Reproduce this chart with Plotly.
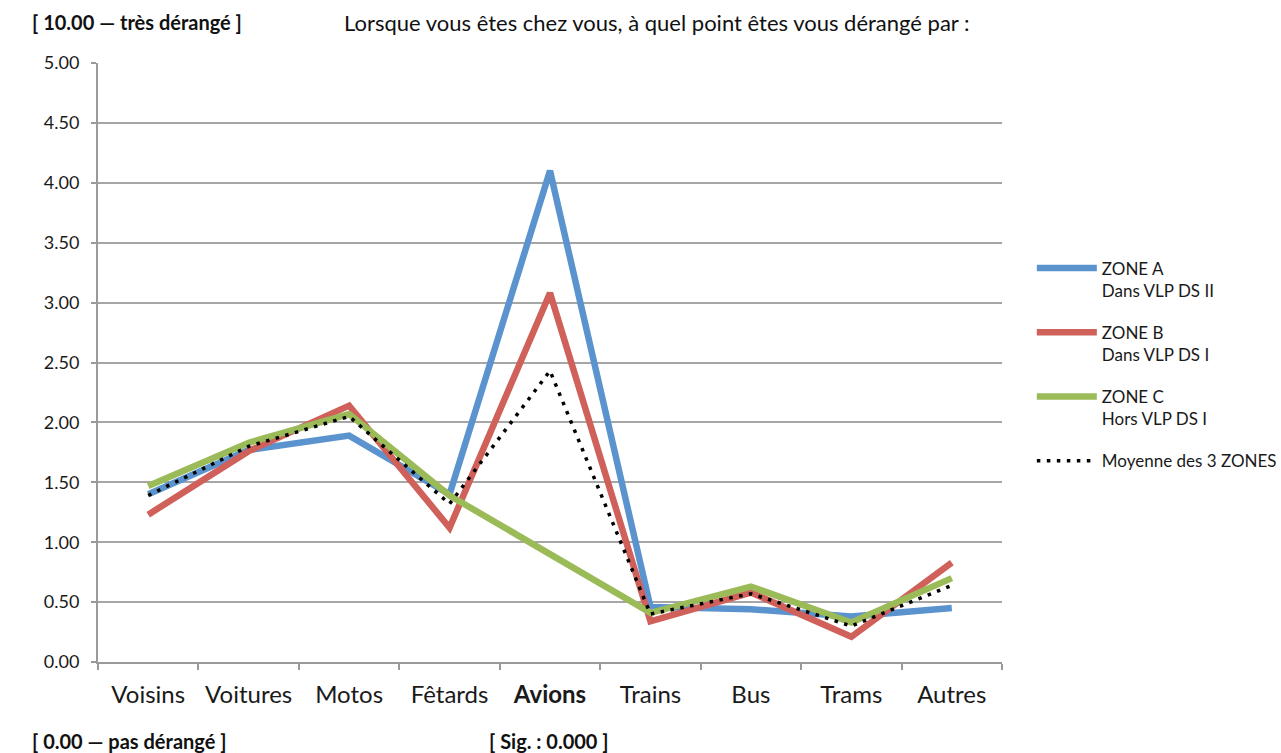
import plotly.graph_objects as go

categories = ["Voisins", "Voitures", "Motos", "Fêtards", "Avions", "Trains", "Bus", "Trams", "Autres"]
tick_labels = ["Voisins", "Voitures", "Motos", "Fêtards", "<b>Avions</b>", "Trains", "Bus", "Trams", "Autres"]
zone_a = [1.40, 1.77, 1.89, 1.40, 4.10, 0.46, 0.44, 0.38, 0.45]
zone_b = [1.23, 1.76, 2.14, 1.12, 3.08, 0.34, 0.58, 0.21, 0.83]
zone_c = [1.47, 1.83, 2.07, 1.39, None, 0.41, 0.63, 0.33, 0.70]
moyenne = [1.39, 1.80, 2.05, 1.32, 2.43, 0.40, 0.57, 0.30, 0.64]
names = ["ZONE A<br>Dans VLP DS II", "ZONE B<br>Dans VLP DS I", "ZONE C<br>Hors VLP DS I", "Moyenne des 3 ZONES"]
y_ticks = [0, 0.5, 1, 1.5, 2, 2.5, 3, 3.5, 4, 4.5, 5]

FONT = "Lato"
TXT = "#1a1a1a"
fig = go.Figure()
for i, (vals, name, col) in enumerate([(zone_a, names[0], "#5B93CE"), (zone_b, names[1], "#D0605A"), (zone_c, names[2], "#9BBB59")]):
    fig.add_trace(go.Scatter(x=categories, y=vals, name=name, mode="lines", legendgroup=f"g{i}",
                             line=dict(color=col, width=6.5), connectgaps=True))
fig.add_trace(go.Scatter(x=categories, y=moyenne, name=names[3], mode="lines", legendgroup="g3",
                         line=dict(color="black", width=3.5, dash="3.5px,6.5px")))

L, R, T, B = 98, 279, 63, 91
fig.update_layout(
    width=1281, height=753,
    margin=dict(l=L, r=R, t=T, b=B, autoexpand=False),
    paper_bgcolor="white", plot_bgcolor="white",
    font=dict(family=FONT, color=TXT),
    showlegend=True,
    legend=dict(x=1.033, y=0.687, xanchor="left", yanchor="top", valign="top",
                font=dict(size=17, family=FONT, color=TXT),
                tracegroupgap=17, itemwidth=60, bgcolor="rgba(0,0,0,0)"),
    xaxis=dict(tickmode="array", tickvals=categories, ticktext=tick_labels,
               tickson="boundaries", ticks="outside", ticklen=6, tickcolor="#9a9a9a", tickwidth=2,
               showline=True, linecolor="#9a9a9a", linewidth=2, showgrid=False,
               ticklabelstandoff=10,
               tickfont=dict(size=24, family=FONT, color=TXT), range=[-0.5, 8.5]),
    yaxis=dict(range=[0, 5], tickvals=y_ticks, tickformat=".2f",
               ticks="outside", ticklen=5, tickcolor="#9a9a9a", tickwidth=2,
               showline=True, linecolor="#9a9a9a", linewidth=2,
               showgrid=True, gridcolor="#a6a6a6", gridwidth=2, zeroline=False,
               ticklabelstandoff=8,
               tickfont=dict(size=18, family=FONT, color=TXT)),
)

pw, ph = 1281 - L - R, 753 - T - B
def px(x):
    return (x - L) / pw
def py(y):
    return (753 - B - y) / ph
ann = [
    dict(text="<b>[ 10.00 — très dérangé ]</b>", x=px(30), y=py(22), size=20),
    dict(text="Lorsque vous êtes chez vous, à quel point êtes vous dérangé par :", x=px(342), y=py(22), size=22),
    dict(text="<b>[ 0.00 — pas dérangé ]</b>", x=px(30), y=py(741), size=20),
    dict(text="<b>[ Sig. : 0.000 ]</b>", x=px(487), y=py(741), size=20),
]
for a in ann:
    fig.add_annotation(text=a["text"], x=a["x"], y=a["y"], xref="paper", yref="paper",
                       xanchor="left", yanchor="middle", showarrow=False,
                       font=dict(size=a["size"], family=FONT, color="#111"))

fig.write_html("out.html", config={"displayModeBar": False},
               post_script="document.body.style.margin='0';document.body.style.overflow='hidden';")
